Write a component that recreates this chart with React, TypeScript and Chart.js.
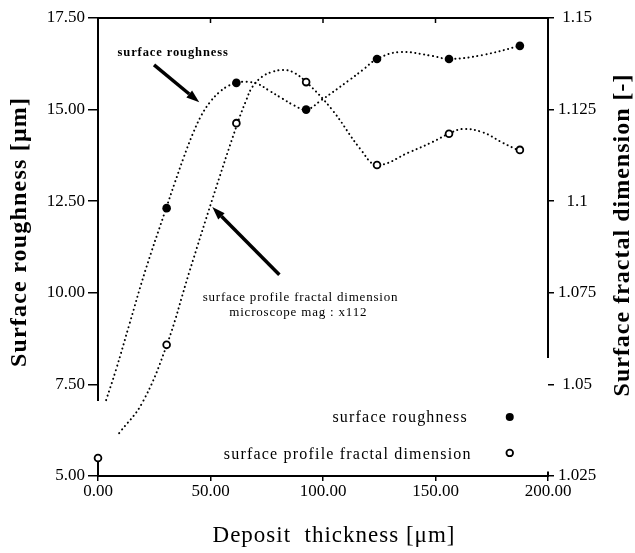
import React, { useEffect, useRef } from 'react';
import { Chart, registerables } from 'chart.js';

Chart.register(...registerables);

// ---- axis ticks ----
const xTickValues = [0, 50, 100, 150, 200];
const xTickLabels = ['0.00', '50.00', '100.00', '150.00', '200.00'];
const leftTickValues = [5, 7.5, 10, 12.5, 15, 17.5];
const leftTickLabels = ['5.00', '7.50', '10.00', '12.50', '15.00', '17.50'];
const rightTickValues = [1.025, 1.05, 1.075, 1.1, 1.125, 1.15];
const rightTickLabels = ['1.025', '1.05', '1.075', '1.1', '1.125', '1.15'];

// ---- measured points ----
const roughThickness = [30.5, 61.5, 92.5, 124, 156, 187.5];
const roughness = [12.31, 15.73, 15.0, 16.38, 16.38, 16.74];
const fractalThickness = [0, 30.5, 61.5, 92.5, 124, 156, 187.5];
const fractalDim = [1.0299, 1.0608, 1.1213, 1.1325, 1.1099, 1.1184, 1.114];

// ---- dotted fitted curves ----
const roughCurveX = [3.6, 8, 14, 21, 30.3, 34, 38, 42, 46, 50, 54, 58, 61.5, 66, 71, 76, 82, 87, 92.6, 99.3, 111.8, 117.6, 124, 134, 149, 156, 171, 187.5];
const roughCurveY = [7.07, 7.9, 9.15, 10.6, 12.31, 12.98, 13.68, 14.32, 14.85, 15.22, 15.48, 15.65, 15.73, 15.76, 15.7, 15.52, 15.3, 15.12, 15.0, 15.26, 15.81, 16.08, 16.38, 16.57, 16.46, 16.38, 16.49, 16.74];
const fractalCurveX = [9.4, 19.6, 30.6, 40.5, 50.8, 62, 65.9, 68.6, 73, 77.5, 82, 86.4, 92.6, 104, 116.9, 124, 138.5, 148.8, 155.5, 162, 171, 180, 187.5];
const fractalCurveY = [1.0367, 1.0449, 1.0608, 1.0805, 1.1005, 1.1213, 1.1276, 1.1312, 1.134, 1.1353, 1.1358, 1.1353, 1.1325, 1.125, 1.114, 1.1099, 1.1134, 1.1162, 1.1183, 1.1197, 1.1188, 1.1159, 1.1137];

const SERIF = "'Liberation Serif', 'Times New Roman', serif";

const zip = (xs: number[], ys: number[]) => xs.map((x, i) => ({ x, y: ys[i] }));

const overlay = {
  id: 'overlay',
  afterDraw(chart: any) {
    const { ctx, chartArea: a, scales } = chart;
    const px = (v: number) => scales.x.getPixelForValue(v);
    const py = (v: number) => scales.y.getPixelForValue(v);
    const py1 = (v: number) => scales.y1.getPixelForValue(v);
    const line = (x1: number, y1: number, x2: number, y2: number) => {
      ctx.beginPath();
      ctx.moveTo(x1, y1);
      ctx.lineTo(x2, y2);
      ctx.stroke();
    };
    ctx.save();
    ctx.strokeStyle = '#000';
    ctx.fillStyle = '#000';
    ctx.lineWidth = 2;
    // frame
    line(a.left - 1, a.top, a.right + 1, a.top);
    line(a.left - 1, a.bottom, a.right + 1, a.bottom);
    line(a.left, py(17.5), a.left, py(7.05));
    line(a.left, py(5.4), a.left, py(5));
    line(a.right, a.top, a.right, py1(1.0572));
    line(a.right, py1(1.0262), a.right, a.bottom);
    ctx.lineWidth = 1.5;
    [50, 100, 150].forEach((v) => line(px(v), a.top, px(v), a.top + 5));
    line(a.left, a.bottom - 4, a.left, a.bottom);
    line(a.right, a.bottom - 4, a.right, a.bottom);

    // arrows
    const arrow = (x1: number, y1: number, x2: number, y2: number) => {
      const ang = Math.atan2(y2 - y1, x2 - x1);
      const hl = 13, hw = 4.5;
      const bx = x2 - hl * Math.cos(ang), by = y2 - hl * Math.sin(ang);
      ctx.lineWidth = 3.5;
      line(x1, y1, bx, by);
      ctx.beginPath();
      ctx.moveTo(x2, y2);
      ctx.lineTo(bx + hw * Math.sin(ang), by - hw * Math.cos(ang));
      ctx.lineTo(bx - hw * Math.sin(ang), by + hw * Math.cos(ang));
      ctx.closePath();
      ctx.fill();
    };
    arrow(px(24.9), py(16.22), px(45), py(15.2));
    arrow(px(80.6), py(10.49), px(50.8), py(12.34));

    const text = (s: string, x: number, y: number, font: string, align: CanvasTextAlign, spacing: string) => {
      ctx.font = font;
      ctx.textAlign = align;
      ctx.textBaseline = 'middle';
      (ctx as any).letterSpacing = spacing;
      ctx.fillText(s, x, y);
    };
    // annotations
    text('surface roughness', px(33.4), py(16.54), `bold 12.5px ${SERIF}`, 'center', '0.9px');
    text('surface profile fractal dimension', px(90), py(9.88), `13px ${SERIF}`, 'center', '0.8px');
    text('microscope mag : x112', px(89), py(9.45), `13px ${SERIF}`, 'center', '0.8px');
    // legend
    text('surface roughness', px(164.4), py(6.58), `16px ${SERIF}`, 'right', '1.2px');
    text('surface profile fractal dimension', px(166.1), py(5.57), `16px ${SERIF}`, 'right', '1.2px');
    ctx.beginPath();
    ctx.arc(px(183), py(6.61), 4, 0, Math.PI * 2);
    ctx.fill();
    ctx.lineWidth = 1.8;
    ctx.beginPath();
    ctx.arc(px(183), py(5.63), 3.3, 0, Math.PI * 2);
    ctx.stroke();

    // axis titles
    text('Deposit  thickness [μm]', 334, 536, `23px ${SERIF}`, 'center', '1px');
    ctx.save();
    ctx.translate(20, 232);
    ctx.rotate(-Math.PI / 2);
    text('Surface roughness [μm]', 0, 0, `bold 24px ${SERIF}`, 'center', '1.2px');
    ctx.restore();
    ctx.save();
    ctx.translate(623, 235);
    ctx.rotate(-Math.PI / 2);
    text('Surface fractal dimension [-]', 0, 0, `bold 24px ${SERIF}`, 'center', '1px');
    ctx.restore();
    ctx.restore();
  },
};

export default function App() {
  const ref = useRef<HTMLCanvasElement>(null);
  useEffect(() => {
    if (!ref.current) return;
    const tickFont = { family: SERIF, size: 17 };
    const curveStyle = {
      showLine: true,
      pointRadius: 0,
      borderColor: '#000',
      borderWidth: 2,
      borderDash: [0.1, 4.4],
      borderCapStyle: 'round',
      tension: 0.4,
    };
    const chart = new Chart(ref.current, {
      type: 'scatter',
      data: {
        datasets: [
          {
            label: 'surface roughness',
            data: zip(roughThickness, roughness),
            yAxisID: 'y',
            showLine: false,
            pointRadius: 4.3,
            pointBackgroundColor: '#000',
            pointBorderWidth: 0,
            clip: false,
          },
          {
            label: 'surface profile fractal dimension',
            data: zip(fractalThickness, fractalDim),
            yAxisID: 'y1',
            showLine: false,
            pointRadius: 3.4,
            pointBackgroundColor: '#fff',
            pointBorderColor: '#000',
            pointBorderWidth: 1.8,
            clip: false,
          },
          { label: 'roughness fit', data: zip(roughCurveX, roughCurveY), yAxisID: 'y', ...curveStyle },
          { label: 'fractal fit', data: zip(fractalCurveX, fractalCurveY), yAxisID: 'y1', ...curveStyle },
        ] as any,
      },
      options: {
        animation: false,
        responsive: true,
        maintainAspectRatio: false,
        layout: { padding: { top: 18, left: 0, right: 0, bottom: 0 } },
        plugins: { legend: { display: false }, tooltip: { enabled: false } },
        scales: {
          x: {
            type: 'linear',
            min: 0,
            max: 200,
            afterBuildTicks: (s: any) => { s.ticks = xTickValues.map((value) => ({ value })); },
            afterFit: (s: any) => { s.height = 77; },
            ticks: {
              color: '#000',
              font: tickFont,
              padding: 0,
              maxRotation: 0,
              autoSkip: false,
              callback: (_v: any, i: number) => xTickLabels[i],
            },
            grid: { drawOnChartArea: false, drawTicks: true, tickLength: 5, color: '#000', lineWidth: 1.5 },
            border: { display: false },
          },
          y: {
            type: 'linear',
            position: 'left',
            min: 5,
            max: 17.5,
            afterBuildTicks: (s: any) => { s.ticks = leftTickValues.map((value) => ({ value })); },
            afterFit: (s: any) => { s.width = 98; },
            ticks: {
              color: '#000',
              font: tickFont,
              padding: 3,
              autoSkip: false,
              callback: (_v: any, i: number) => leftTickLabels[i],
            },
            grid: { drawOnChartArea: false, drawTicks: true, tickLength: 10, color: '#000', lineWidth: 1.5 },
            border: { display: false },
          },
          y1: {
            type: 'linear',
            position: 'right',
            min: 1.025,
            max: 1.15,
            afterBuildTicks: (s: any) => { s.ticks = rightTickValues.map((value) => ({ value })); },
            afterFit: (s: any) => { s.width = 87; },
            ticks: {
              color: '#000',
              font: tickFont,
              padding: 4,
              autoSkip: false,
              crossAlign: 'center',
              callback: (_v: any, i: number) => rightTickLabels[i],
            },
            grid: { drawOnChartArea: false, drawTicks: true, tickLength: 6, color: '#000', lineWidth: 1.5 },
            border: { display: false },
          },
        },
      } as any,
      plugins: [overlay],
    });
    return () => chart.destroy();
  }, []);

  return (
    <div style={{ position: 'fixed', left: 0, top: 0, width: 635, height: 553, background: '#fff' }}>
      <canvas ref={ref} />
    </div>
  );
}
